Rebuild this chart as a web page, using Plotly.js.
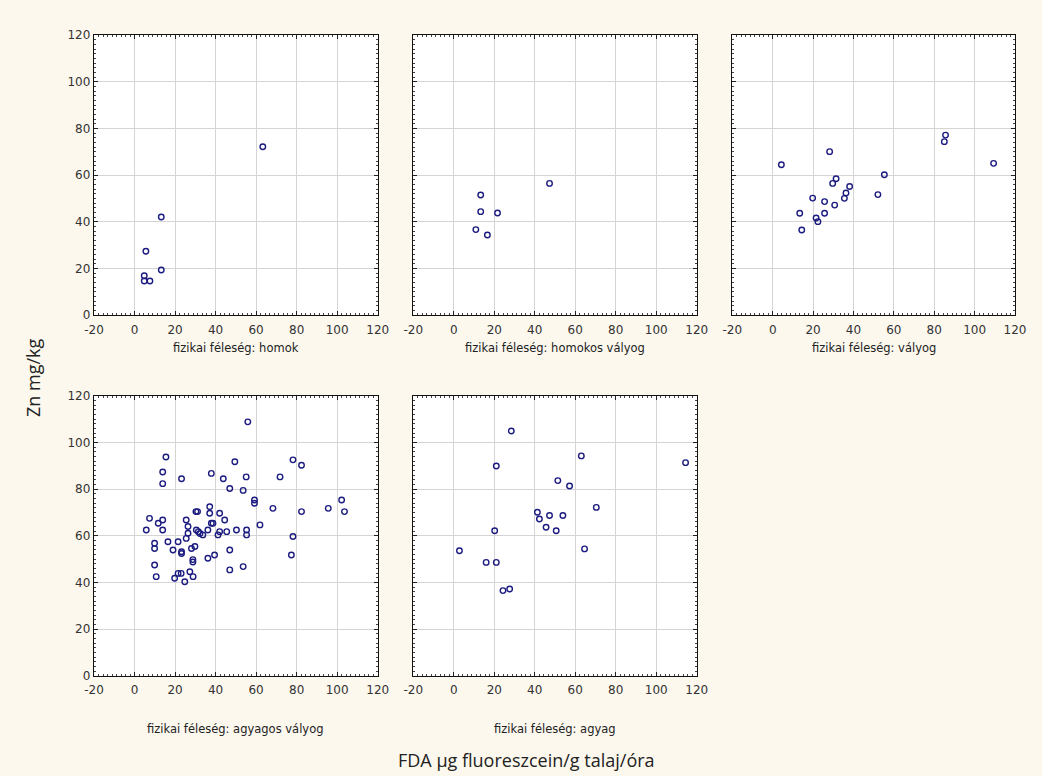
<!DOCTYPE html>
<html>
<head>
<meta charset="utf-8">
<script src="https://cdn.plot.ly/plotly-3.0.1.min.js"></script>
<style>html,body{margin:0;padding:0;background:#fcf8ee;}#chart{width:1042px;height:776px;}</style>
</head>
<body>
<div id="chart"></div>
<script>
// Data: FDA (x) vs Zn mg/kg (y) per soil texture class
const panelLabels = ['fizikai féleség: homok', 'fizikai féleség: homokos vályog', 'fizikai féleség: vályog', 'fizikai féleség: agyagos vályog', 'fizikai féleség: agyag'];

const homokX = [63.3, 13.2, 5.6, 13.2, 4.8, 4.8, 7.6];
const homokY = [72.1, 42.0, 27.3, 19.3, 16.8, 14.6, 14.6];

const homokosValyogX = [47.3, 13.3, 13.3, 21.6, 10.9, 16.6];
const homokosValyogY = [56.4, 51.4, 44.3, 43.7, 36.6, 34.3];

const valyogX = [4.3, 28.2, 85.6, 85.0, 109.4, 55.3, 31.4, 29.7, 38.1, 36.3, 35.5, 52.1, 19.8, 25.7, 30.7, 25.7, 13.4, 21.5, 22.4, 14.4];
const valyogY = [64.4, 70.0, 77.1, 74.3, 65.0, 60.1, 58.4, 56.4, 55.1, 52.3, 50.0, 51.6, 50.1, 48.6, 47.1, 43.6, 43.6, 41.6, 40.0, 36.4];

const agyagosValyogX = [15.5, 13.9, 13.9, 23.2, 7.4, 5.8, 11.7, 13.9, 13.9, 9.9, 9.9, 16.5, 21.5, 19.0, 23.2, 23.2, 28.1, 29.8, 28.8, 28.8,
  9.9, 10.7, 21.5, 23.0, 19.8, 24.8, 27.3, 28.9, 25.5, 26.4, 26.4, 25.5, 30.3, 31.1, 30.5, 31.5, 32.3, 33.7, 36.2, 37.1,
  37.1, 37.9, 38.7, 42.0, 44.5, 42.0, 41.2, 45.5, 50.3, 55.3, 55.3, 61.9, 59.2, 59.2, 68.3, 71.8, 78.2, 82.4, 82.4, 95.6,
  102.2, 103.6, 78.2, 77.4, 55.9, 49.5, 37.9, 43.8, 55.1, 47.0, 53.6, 47.0, 36.2, 39.5, 47.0, 53.6];
const agyagosValyogY = [93.8, 87.4, 82.4, 84.5, 67.5, 62.5, 65.4, 66.8, 62.5, 56.8, 54.6, 57.5, 57.5, 53.9, 53.2, 52.4, 54.6, 55.4, 49.8, 48.8,
  47.5, 42.5, 43.9, 43.9, 41.8, 40.3, 44.6, 42.5, 66.8, 64.0, 61.1, 58.9, 70.4, 70.4, 62.5, 61.8, 61.0, 60.4, 62.5, 72.5,
  69.7, 65.4, 65.4, 69.7, 66.8, 61.8, 60.4, 61.8, 62.5, 62.5, 60.4, 64.7, 75.4, 74.0, 71.8, 85.3, 92.6, 90.3, 70.4, 71.8,
  75.4, 70.4, 59.7, 51.8, 108.9, 91.8, 86.8, 84.5, 85.3, 80.3, 79.5, 53.9, 50.4, 51.8, 45.4, 46.8];

const agyagX = [28.4, 21.0, 63.0, 114.5, 51.4, 57.2, 70.4, 41.3, 42.3, 47.3, 53.9, 45.6, 50.6, 20.2, 64.6, 2.8, 16.0, 21.0, 24.3, 27.6];
const agyagY = [105.0, 90.0, 94.3, 91.4, 83.7, 81.4, 72.2, 70.1, 67.2, 68.7, 68.7, 63.7, 62.2, 62.2, 54.4, 53.6, 48.6, 48.6, 36.5, 37.2];

const xTicks = [-20, 0, 20, 40, 60, 80, 100, 120];
const yTicks = [0, 20, 40, 60, 80, 100, 120];

const seriesX = [homokX, homokosValyogX, valyogX, agyagosValyogX, agyagX];
const seriesY = [homokY, homokosValyogY, valyogY, agyagosValyogY, agyagY];

const W = 1042, H = 776;
const colsPx = [[94, 377.7], [413.3, 696.7], [732.3, 1015]];
const rowsPx = [[35, 315], [396, 675.7]];
const labelRowY = [348, 729];
const pos = [[0,0],[1,0],[2,0],[0,1],[1,1]];

const traces = [];
const layout = {
  width: W, height: H,
  margin: {l: 0, r: 0, t: 0, b: 0},
  paper_bgcolor: '#fcf8ee',
  plot_bgcolor: '#ffffff',
  showlegend: false,
  annotations: []
};

for (let i = 0; i < 5; i++) {
  const sfx = i === 0 ? '' : String(i + 1);
  const [c, r] = pos[i];
  const xd = [colsPx[c][0] / W, colsPx[c][1] / W];
  const yd = [(H - rowsPx[r][1]) / H, (H - rowsPx[r][0]) / H];
  traces.push({
    type: 'scatter', mode: 'markers',
    x: seriesX[i], y: seriesY[i],
    xaxis: 'x' + sfx, yaxis: 'y' + sfx,
    marker: {symbol: 'circle-open', size: 5.5, color: '#1c1c80', line: {width: 1.4, color: '#1c1c80'}},
    hoverinfo: 'x+y'
  });
  const common = {
    showline: true, linecolor: '#111', linewidth: 1.3, mirror: 'allticks',
    showgrid: true, gridcolor: '#d4d4d4', gridwidth: 1,
    zeroline: false,
    ticks: 'inside', ticklen: 4, tickcolor: '#222', tickwidth: 1,
    tickfont: {family: 'DejaVu Sans, Liberation Sans, sans-serif', size: 12, color: '#333'},
    fixedrange: true
  };
  layout['xaxis' + sfx] = Object.assign({}, common, {
    domain: xd, anchor: 'y' + sfx, range: [-20, 120],
    tickmode: 'array', tickvals: xTicks, ticktext: xTicks.map(String),
    ticklabelstandoff: 3,
    minor: {dtick: 20 / 9, ticks: 'inside', ticklen: 2, tickcolor: '#444', showgrid: false}
  });
  layout['yaxis' + sfx] = Object.assign({}, common, {
    domain: yd, anchor: 'x' + sfx, range: [0, 120],
    tickmode: 'array', tickvals: yTicks, ticktext: yTicks.map(String),
    showticklabels: c === 0,
    minor: {dtick: 2, ticks: 'inside', ticklen: 2, tickcolor: '#444', showgrid: false}
  });
  layout.annotations.push({
    xref: 'paper', yref: 'paper',
    x: (xd[0] + xd[1]) / 2,
    y: (H - labelRowY[r]) / H,
    text: panelLabels[i], showarrow: false,
    xanchor: 'center', yanchor: 'middle',
    font: {family: 'DejaVu Sans, Noto Sans, sans-serif', size: 11.5, color: '#222'}
  });
}

layout.annotations.push({
  xref: 'paper', yref: 'paper', x: 526 / W, y: (H - 760) / H,
  text: 'FDA µg fluoreszcein/g talaj/óra', showarrow: false,
  xanchor: 'center', yanchor: 'middle',
  font: {family: 'Open Sans, Noto Sans, sans-serif', size: 18, color: '#222'}
});
layout.annotations.push({
  xref: 'paper', yref: 'paper', x: 33 / W, y: (H - 378) / H,
  text: 'Zn mg/kg', showarrow: false, textangle: -90,
  xanchor: 'center', yanchor: 'middle',
  font: {family: 'Open Sans, Noto Sans, sans-serif', size: 18, color: '#222'}
});

Plotly.newPlot('chart', traces, layout, {displayModeBar: false, staticPlot: true});
</script>
</body>
</html>
